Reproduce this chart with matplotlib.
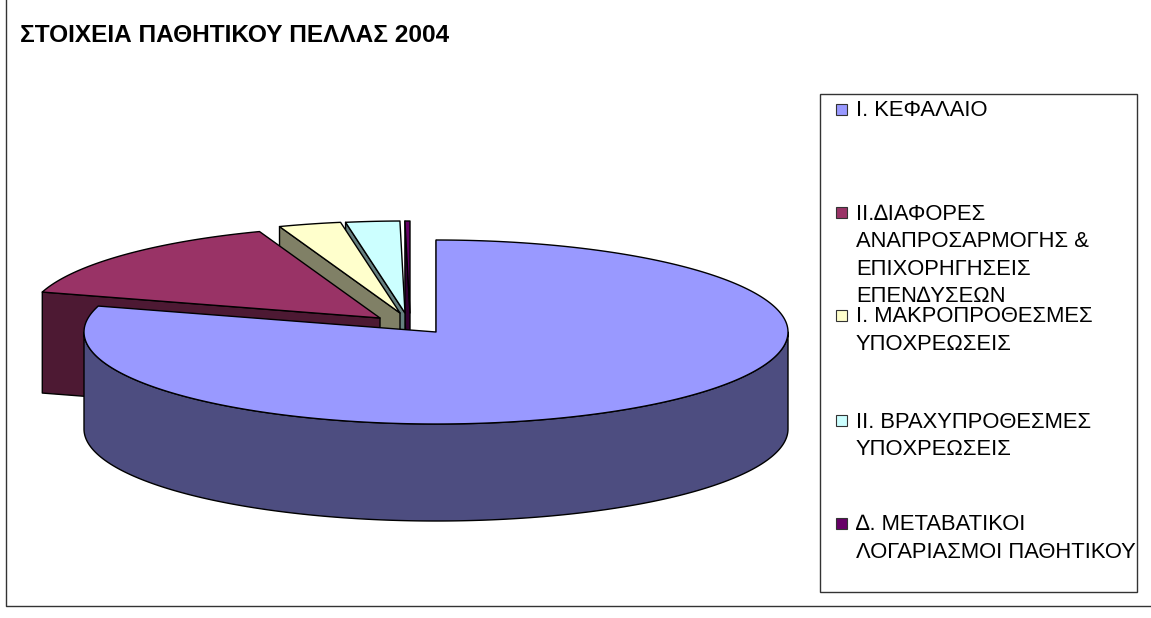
#!/usr/bin/env python3
"""Exploded 3D pie chart, drawn in pixel coordinates of the figure."""

import numpy as np
import matplotlib
matplotlib.use("Agg")
import matplotlib.pyplot as plt
from matplotlib.patches import Rectangle

plt.rcParams['font.family'] = ['Liberation Sans', 'DejaVu Sans']

title = "ΣΤΟΙΧΕΙΑ ΠΑΘΗΤΙΚΟΥ ΠΕΛΛΑΣ 2004"
labels = [
    "Ι. ΚΕΦΑΛΑΙΟ",
    "ΙΙ.∆ΙΑΦΟΡΕΣ\nΑΝΑΠΡΟΣΑΡΜΟΓΗΣ &\nΕΠΙΧΟΡΗΓΗΣΕΙΣ\nΕΠΕΝ∆ΥΣΕΩΝ",
    "Ι. ΜΑΚΡΟΠΡΟΘΕΣΜΕΣ\nΥΠΟΧΡΕΩΣΕΙΣ",
    "ΙΙ. ΒΡΑΧΥΠΡΟΘΕΣΜΕΣ\nΥΠΟΧΡΕΩΣΕΙΣ",
    "∆. ΜΕΤΑΒΑΤΙΚΟΙ\nΛΟΓΑΡΙΑΣΜΟΙ ΠΑΘΗΤΙΚΟΥ",
]
values = [79.55, 14.89, 2.86, 2.47, 0.23]

face_colors = ["#9999FF", "#993366", "#FFFFCC", "#CCFFFF", "#660066"]
wall_colors = ["#4D4D80", "#4D1933", "#808066", "#668080", "#330033"]

# apex of each exploded slice, in pixels
apex_x = [436, 380, 400, 405, 410]
apex_y = [332, 318, 313, 313, 313]
depths = [97, 101, 97, 97, 97]
legend_y = [110, 213, 316, 421, 524]

RX = 352
RY = 92
LINE_STEP = 27.6


def rim(cx, cy, a0, a1):
    """Points along the rim, angles in degrees clockwise from 12 o'clock"""
    t = np.radians(np.linspace(a0, a1, max(int(abs(a1 - a0) * 3), 2)))
    return cx + RX * np.sin(t), cy - RY * np.cos(t)


def draw_slice(ax, i, a0, a1):
    cx, cy = apex_x[i], apex_y[i]
    depth = depths[i]
    edge = dict(edgecolor="black", linewidth=1.0, joinstyle="round")

    # cut face on the starting edge
    sx, sy = rim(cx, cy, a0, a0)
    ax.fill([cx, sx[0], sx[0], cx], [cy, sy[0], sy[0] + depth, cy + depth],
            facecolor=wall_colors[i], **edge)

    # outer wall, only the part facing the viewer
    w0, w1 = max(a0, 90), min(a1, 270)
    if w1 > w0:
        wx, wy = rim(cx, cy, w0, w1)
        ax.fill(np.r_[wx, wx[::-1]], np.r_[wy, wy[::-1] + depth],
                facecolor=wall_colors[i], **edge)

    # top face
    x, y = rim(cx, cy, a0, a1)
    ax.fill(np.r_[cx, x], np.r_[cy, y], facecolor=face_colors[i], **edge)


def main():
    fig = plt.figure(figsize=(11.51, 6.18), dpi=100)
    ax = fig.add_axes([0, 0, 1, 1])
    ax.set_xlim(0, 1151)
    ax.set_ylim(618, 0)
    ax.axis("off")

    # chart frame
    ax.plot([6, 6, 1151], [0, 606, 606], color="#333333", lw=1.0)

    ax.text(20, 36, title, fontsize=17.6, fontweight="bold", va="center", ha="left")

    # slices from back to front, the main one last
    ends = np.cumsum(values) / np.sum(values) * 360
    starts = np.r_[0, ends[:-1]]
    for i in range(len(values) - 1, -1, -1):
        draw_slice(ax, i, starts[i], ends[i])

    # legend
    ax.add_patch(Rectangle((820, 94), 317, 498, facecolor="white",
                           edgecolor="#333333", linewidth=1.0, zorder=3))
    for label, color, y in zip(labels, face_colors, legend_y):
        ax.add_patch(Rectangle((836, y - 6), 11, 11, facecolor=color,
                               edgecolor="#333333", linewidth=0.8, zorder=4))
        for n, line in enumerate(label.split("\n")):
            ax.text(856, y + n * LINE_STEP + 1, line, fontsize=15.8, va="center",
                    ha="left", zorder=5)

    fig.savefig("out.png", dpi=100, facecolor="white")


if __name__ == "__main__":
    main()
